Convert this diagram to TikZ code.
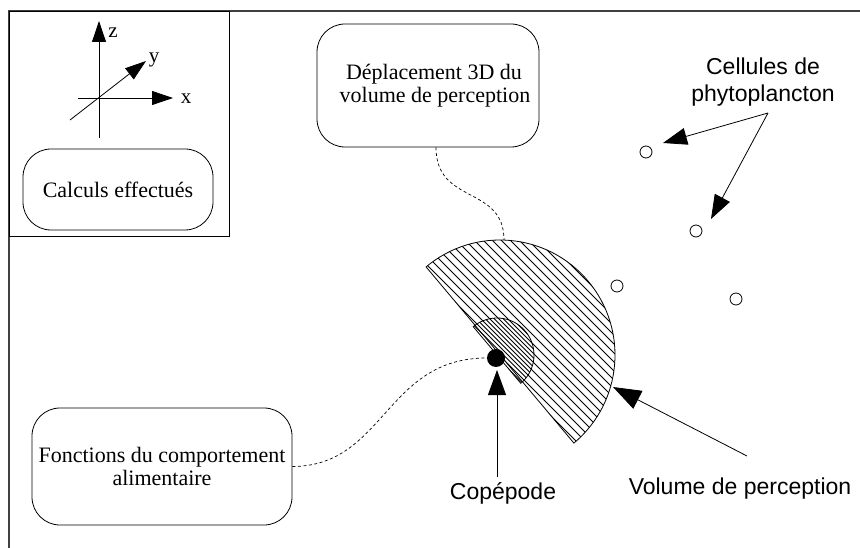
\documentclass[tikz,border=0pt]{standalone}
\usepackage{fontspec}
\setmainfont{Liberation Serif}
\newfontfamily\labfont{Liberation Sans}
\usetikzlibrary{arrows.meta}
\tikzset{
  frameline/.style={draw=black!75, line width=1.2pt},
  roundbox/.style={draw, line width=0.8pt, rounded corners=28pt, align=center,
    inner sep=0pt, font=\fontsize{22}{23}\selectfont},
  cell/.style={circle, draw, line width=0.8pt, minimum size=12pt, inner sep=0pt},
  biglabel/.style={align=center, font=\labfont\fontsize{23}{27}\selectfont, inner sep=0pt},
  axlabel/.style={font=\fontsize{21}{21}\selectfont, inner sep=0pt},
  axarrow/.style={line width=0.8pt, -{Triangle[length=21pt,width=14pt]}},
  pointer/.style={line width=0.8pt, -{Triangle[length=24pt,width=17pt]}},
  link/.style={dashed, dash pattern=on 3pt off 2.5pt, line width=0.7pt},
  hatch/.style={line width=0.8pt}
}
\begin{document}
\begin{tikzpicture}[x=1pt,y=-1pt]
\useasboundingbox (0,0) rectangle (860,548);
% outer frame (top and left edges)
\coordinate (fl) at (9,548);
\coordinate (ftl) at (9,11);
\coordinate (ftr) at (860,11);
\draw[frameline] (fl) -- (ftl) -- (ftr);
% inset box
\coordinate (ib) at (229,236);
\draw[line width=0.9pt] (ftl) rectangle (ib);

% axes
\coordinate (O) at (99,98);
\coordinate (zb) at (99,138);
\coordinate (zt) at (99,21);
\coordinate (xb) at (78,98);
\coordinate (xt) at (173,98);
\coordinate (yb) at (70,120);
\coordinate (yt) at (146,61);
\draw[axarrow] (zb) -- (zt);
\draw[axarrow] (xb) -- (xt);
\draw[axarrow] (yb) -- (yt);
\node[axlabel] (zl) at (113,33) {z};
\node[axlabel] (yl) at (154,60) {y};
\node[axlabel] (xl) at (186,99) {x};

% boxes
\node[roundbox, minimum width=190pt, minimum height=81pt] (calc) at (118,189.5) {Calculs effectués};
\node[roundbox, minimum width=222pt, minimum height=123pt] (depl) at (428,85.5)
  {\hspace*{12pt}Déplacement 3D du\\\hspace*{14pt}volume de perception};
\node[roundbox, minimum width=260pt, minimum height=117pt] (fonc) at (162,466.5)
  {Fonctions du comportement\\alimentaire};

% perception volume (half discs) with hatching
\coordinate (sc) at (500,355);
\begin{scope}
  \clip (sc) ++(-130:115) arc[start angle=-130, end angle=50, radius=115] -- cycle;
  \foreach \c in {-405,-396,...,45} {
    \draw[hatch] (400,400+\c) -- (650,650+\c);
  }
\end{scope}
\draw[line width=0.8pt] (sc) ++(-130:115) arc[start angle=-130, end angle=50, radius=115] -- cycle;
\coordinate (ssc) at (497,355);
\begin{scope}
  \clip (ssc) ++(-130:37) arc[start angle=-130, end angle=50, radius=37] -- cycle;
  \foreach \c in {-405,-396,...,45} {
    \draw[hatch] (400,404.5+\c) -- (650,654.5+\c);
  }
\end{scope}
\draw[line width=0.8pt] (ssc) ++(-130:37) arc[start angle=-130, end angle=50, radius=37] -- cycle;
\coordinate (vtop) at (504,240);

% copepod
\node[circle, fill=black, minimum size=18pt, inner sep=0pt] (cop) at (496,358) {};

% phytoplankton cells
\node[cell] (c1) at (646,152) {};
\node[cell] (c2) at (696,231) {};
\node[cell] (c3) at (617,286) {};
\node[cell] (c4) at (736,299) {};

% labels
\node[biglabel] (cell) at (763,82) {Cellules de\\phytoplancton};
\coordinate (cs) at (768,113);
\coordinate (a1) at (663,143);
\coordinate (a2) at (711,219);
\draw[pointer] (cs) -- (a1);
\draw[pointer] (cs) -- (a2);

\node[biglabel] (copl) at (503,493) {Copépode};
\coordinate (cpb) at (497,477);
\coordinate (cpt) at (497,370);
\draw[pointer, -{Triangle[length=25pt,width=18pt]}] (cpb) -- (cpt);

\node[biglabel] (voll) at (740,489) {Volume de perception};
\coordinate (vb) at (747,456);
\coordinate (vt) at (613,387);
\draw[pointer, -{Triangle[length=28pt,width=20pt]}] (vb) -- (vt);

% dashed links
\draw[link] (depl.south) ++(8,0) coordinate (ds) .. controls (436,205) and (504,185) .. (vtop);
\draw[link] (fonc.east) .. controls (385,466) and (385,358) .. (cop.west);
\end{tikzpicture}
\end{document}
